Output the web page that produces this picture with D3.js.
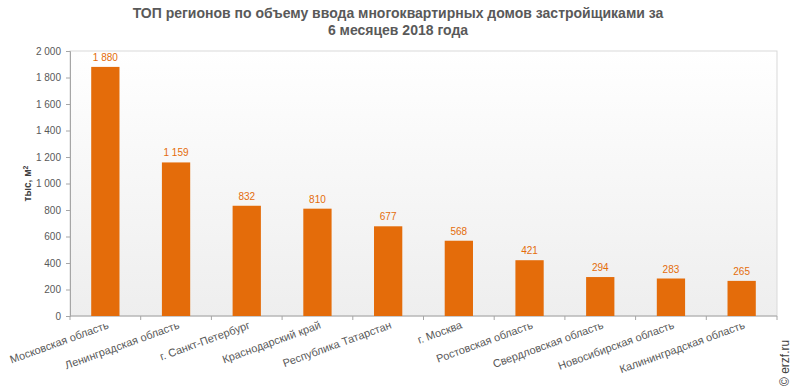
<!DOCTYPE html>
<html>
<head>
<meta charset="utf-8">
<script src="https://cdn.jsdelivr.net/npm/d3@7"></script>
<style>
  body { margin: 0; background: #fff; }
  text { font-family: Arial, "Liberation Sans", sans-serif; }
</style>
</head>
<body>
<svg id="chart" width="797" height="392"></svg>
<script>
var regions = ["Московская область", "Ленинградская область", "г. Санкт-Петербург",
  "Краснодарский край", "Республика Татарстан", "г. Москва", "Ростовская область",
  "Свердловская область", "Новосибирская область", "Калининградская область"];
var values = [1880, 1159, 832, 810, 677, 568, 421, 294, 283, 265];
var yTicks = [0, 200, 400, 600, 800, 1000, 1200, 1400, 1600, 1800, 2000];
var titleLines = ["ТОП регионов по объему ввода многоквартирных домов застройщиками за",
  "6 месяцев 2018 года"];

var svg = d3.select("#chart");
var margin = {left: 70, right: 20, top: 51, bottom: 76};
var width = 797 - margin.left - margin.right;
var height = 392 - margin.top - margin.bottom;

var fmt = function(v) { return d3.format(",")(v).replace(/,/g, " "); };

// background gradient of plot area
var defs = svg.append("defs");
var grad = defs.append("linearGradient")
    .attr("id", "bg")
    .attr("x1", 0).attr("y1", 0).attr("x2", 0).attr("y2", 1);
grad.append("stop").attr("offset", "0%").attr("stop-color", "#ffffff");
grad.append("stop").attr("offset", "100%").attr("stop-color", "#eeeeee");

var g = svg.append("g")
    .attr("transform", "translate(" + margin.left + "," + margin.top + ")");

g.append("rect")
    .attr("width", width).attr("height", height)
    .attr("fill", "url(#bg)")
    .attr("stroke", "#d9d9d9");

var x = d3.scaleBand().domain(regions).range([0, width]).paddingInner(0.6).paddingOuter(0.3);
var y = d3.scaleLinear().domain([0, 2000]).range([height, 0]);

// y axis
var yAxis = g.append("g")
    .call(d3.axisLeft(y).tickValues(yTicks).tickSize(4).tickPadding(5).tickFormat(fmt));
yAxis.select(".domain").attr("stroke", "#a6a6a6");
yAxis.selectAll(".tick line").attr("stroke", "#a6a6a6");
yAxis.selectAll("text").attr("fill", "#595959").style("font-size", "10px");

// x axis with ticks between categories
var edges = d3.range(regions.length + 1).map(function(i) { return i * width / regions.length; });
var xAxis = g.append("g").attr("transform", "translate(0," + height + ")");
xAxis.append("line").attr("x1", 0).attr("x2", width).attr("stroke", "#a6a6a6");
xAxis.selectAll("line.tk").data(edges).enter().append("line")
    .attr("class", "tk")
    .attr("x1", function(d) { return d; }).attr("x2", function(d) { return d; })
    .attr("y1", 0).attr("y2", 4)
    .attr("stroke", "#a6a6a6");

xAxis.selectAll("text.cat").data(regions).enter().append("text")
    .attr("class", "cat")
    .attr("text-anchor", "end")
    .attr("transform", function(d) {
      return "translate(" + (x(d) + x.bandwidth() / 2 + 4) + ",12) rotate(-20)";
    })
    .attr("fill", "#595959")
    .style("font-size", "11px")
    .text(function(d) { return d; });

// bars
g.selectAll("rect.bar").data(values).enter().append("rect")
    .attr("class", "bar")
    .attr("x", function(d, i) { return x(regions[i]); })
    .attr("y", function(d) { return y(d); })
    .attr("width", x.bandwidth())
    .attr("height", function(d) { return height - y(d); })
    .attr("fill", "#e46c0a");

g.selectAll("text.val").data(values).enter().append("text")
    .attr("class", "val")
    .attr("x", function(d, i) { return x(regions[i]) + x.bandwidth() / 2; })
    .attr("y", function(d) { return y(d) - 6; })
    .attr("text-anchor", "middle")
    .attr("fill", "#e46c0a")
    .style("font-size", "10px")
    .text(fmt);

// axis title
svg.append("text")
    .attr("transform", "translate(31," + (margin.top + height / 2) + ") rotate(-90)")
    .attr("text-anchor", "middle")
    .attr("fill", "#404040")
    .style("font-size", "10px")
    .style("font-weight", "bold")
    .html("тыс, м<tspan baseline-shift='super' font-size='7px'>2</tspan>");

// title
svg.selectAll("text.title").data(titleLines).enter().append("text")
    .attr("class", "title")
    .attr("x", 398)
    .attr("y", function(d, i) { return 18 + i * 17; })
    .attr("text-anchor", "middle")
    .attr("fill", "#595959")
    .style("font-size", "14px")
    .style("font-weight", "bold")
    .text(function(d) { return d; });

// credit
svg.append("text")
    .attr("transform", "translate(789,386) rotate(-90)")
    .attr("fill", "#404040")
    .style("font-size", "12px")
    .text("© erzf.ru");
</script>
</body>
</html>
